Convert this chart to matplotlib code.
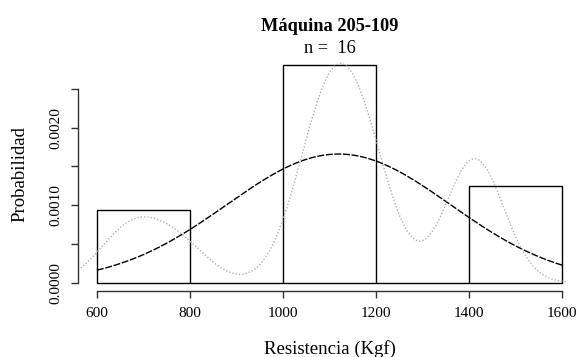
import matplotlib
matplotlib.use("Agg")
import matplotlib.pyplot as plt
import numpy as np

low_vals = [650, 705, 785]
mid_vals = [1050, 1075, 1095, 1105, 1120, 1140, 1160, 1180, 1198]
high_vals = [1403, 1408, 1414, 1422]
breaks = [600, 800, 1000, 1200, 1400, 1600]
bandwidth = 62  # kernel bandwidth of the density estimate

title = "Máquina 205-109"
xlabel = "Resistencia (Kgf)"
ylabel = "Probabilidad"

data = np.array(low_vals + mid_vals + high_vals, dtype=float)
n = len(data)

W, H = 578, 357
fig = plt.figure(figsize=(W / 100, H / 100), dpi=100)
serif = "Liberation Serif"

# plot region in pixels (R style layout)
x0, x1, ytop, ybot = 78.3, 580.9, 56.2, 291.3
ax = fig.add_axes([x0 / W, 1 - ybot / H, (x1 - x0) / W, (ybot - ytop) / H])

# histogram (density scale)
counts, edges, patches = ax.hist(data, bins=breaks, density=True,
                                 facecolor="white", edgecolor="black", linewidth=1.0)
ymax = counts.max()

# normal curve using sample mean / sd
mu = data.mean()
sd = data.std(ddof=1)
xn = np.linspace(breaks[0], breaks[-1], 201)
yn = np.exp(-0.5 * ((xn - mu) / sd) ** 2) / (sd * np.sqrt(2 * np.pi))
ax.plot(xn, yn, color="black", linewidth=1.0, linestyle=(0, (5, 1.2)))

# gaussian kernel density (cut = 3 * bw, like R)
xk = np.linspace(data.min() - 3 * bandwidth, data.max() + 3 * bandwidth, 512)
yk = np.exp(-0.5 * ((xk[:, None] - data[None, :]) / bandwidth) ** 2).sum(axis=1)
yk = yk / (n * bandwidth * np.sqrt(2 * np.pi))
ax.plot(xk, yk, color="#b3b3b3", linewidth=1.0, linestyle=(0, (1, 1.4)))

# axes, R style
span = breaks[-1] - breaks[0]
ax.set_xlim(breaks[0] - 0.04 * span, breaks[-1] + 0.04 * span)
ax.set_ylim(-0.04 * ymax, 1.04 * ymax)
ax.patch.set_alpha(0)
for s in ["top", "right"]:
    ax.spines[s].set_visible(False)
ax.spines["left"].set_bounds(0, 0.0025)
ax.spines["bottom"].set_bounds(breaks[0], breaks[-1])
for s in ["left", "bottom"]:
    ax.spines[s].set_color("#333333")
    ax.spines[s].set_linewidth(1.0)

ax.set_xticks(breaks)
ax.set_xticklabels([str(b) for b in breaks], fontfamily=serif, fontsize=11)
yt = [0, 0.0005, 0.001, 0.0015, 0.002, 0.0025]
ax.set_yticks(yt)
ax.set_yticklabels(["0.0000", "", "0.0010", "", "0.0020", ""],
                   fontfamily=serif, fontsize=11, rotation=90, va="center")
ax.tick_params(axis="x", length=5, width=1, color="#333333", pad=6.5)
ax.tick_params(axis="y", length=5, width=1, color="#333333", pad=6.5)

# titles and labels
cx = (x0 + x1) / 2 / W
fig.text(cx, 1 - 30.7 / H, title, ha="center", va="baseline",
         fontfamily=serif, fontsize=13.2, fontweight="bold")
fig.text(cx, 1 - 53.3 / H, "n =  %d" % n, ha="center", va="baseline",
         fontfamily=serif, fontsize=13.2)
fig.text(cx, 1 - 353.5 / H, xlabel, ha="center", va="baseline",
         fontfamily=serif, fontsize=13.5)
fig.text(20 / W, 1 - (ytop + ybot) / 2 / H, ylabel, ha="center", va="center",
         rotation=90, fontfamily=serif, fontsize=13.5)

plt.savefig("out.png", dpi=100)
plt.close()
